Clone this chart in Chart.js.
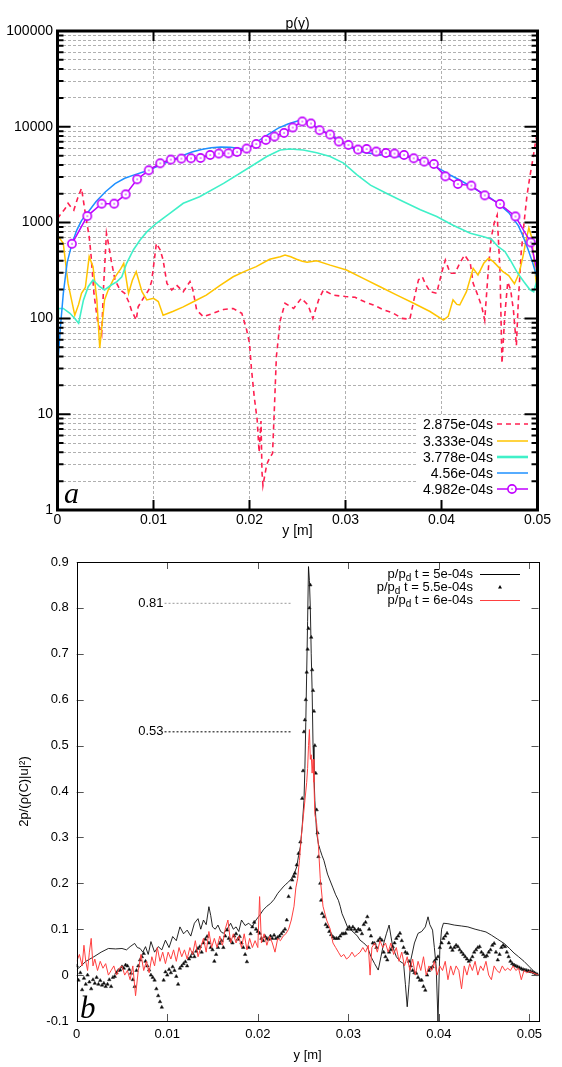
<!DOCTYPE html>
<html>
<head>
<meta charset="utf-8">
<script src="https://cdn.jsdelivr.net/npm/chart.js@4.4.1/dist/chart.umd.min.js"></script>
<style>
  html, body { margin: 0; padding: 0; background: #fff; }
  #wrap { position: relative; width: 562px; height: 1067px; background: #fff; }
  #top { position: absolute; left: 0; top: 0; }
  #bot { position: absolute; left: 0; top: 540px; }
</style>
</head>
<body>
<div id="wrap">
  <canvas id="top" width="562" height="540"></canvas>
  <canvas id="bot" width="562" height="527"></canvas>
</div>
<script>
// ---- chart a : p(y), log scale ----
const xTicksA = [0, 0.01, 0.02, 0.03, 0.04, 0.05];
const decadesA = [1, 10, 100, 1000, 10000, 100000];

// t = 2.875e-04s (red dashed)
const p2875X = [0, 0.0004, 0.0008, 0.0011, 0.0014, 0.0017, 0.0021, 0.0025, 0.0029, 0.0033, 0.0035, 0.0038, 0.0042, 0.0046, 0.0048, 0.0051, 0.0053, 0.0056, 0.006, 0.0065, 0.007, 0.0074, 0.0077, 0.0082, 0.0084, 0.0089, 0.0095, 0.0098, 0.01, 0.0103, 0.0107, 0.011, 0.0114, 0.0119, 0.0124, 0.0131, 0.0138, 0.0141, 0.0145, 0.0152, 0.0162, 0.0173, 0.0183, 0.0192, 0.0197, 0.02, 0.0202, 0.0205, 0.0208, 0.021, 0.0212, 0.0213, 0.0214, 0.0218, 0.0221, 0.0224, 0.0226, 0.0228, 0.0232, 0.0237, 0.0246, 0.0254, 0.0261, 0.0266, 0.0272, 0.0277, 0.0287, 0.03, 0.031, 0.032, 0.0329, 0.0339, 0.035, 0.0359, 0.0367, 0.0372, 0.0376, 0.038, 0.0383, 0.0388, 0.0395, 0.04, 0.0404, 0.0409, 0.0414, 0.0419, 0.0424, 0.043, 0.0433, 0.0437, 0.0442, 0.0445, 0.0449, 0.0452, 0.0455, 0.0458, 0.0461, 0.0463, 0.0466, 0.0469, 0.0472, 0.0475, 0.0478, 0.048, 0.0483, 0.0486, 0.0489, 0.0492, 0.0495, 0.0498, 0.05];
const p2875Y = [1100, 1250, 1400, 1590, 1450, 1350, 1800, 2280, 1250, 713, 450, 180, 90, 68, 214, 773, 608, 400, 250, 200, 183, 150, 122, 96, 132, 160, 198, 242, 347, 608, 518, 407, 232, 198, 223, 190, 242, 198, 122, 104, 113, 124, 127, 113, 76, 55, 30, 15, 8.7, 4, 8.5, 2.5, 1.8, 3, 3.5, 3.9, 12, 40, 95, 144, 127, 162, 138, 100, 156, 198, 175, 169, 166, 149, 138, 124, 113, 100, 98, 169, 252, 272, 232, 190, 183, 296, 407, 296, 296, 376, 459, 376, 232, 183, 132, 96, 347, 713, 1000, 1200, 300, 34, 110, 240, 200, 120, 52, 150, 480, 1000, 1900, 3000, 4500, 7000, 9000];

// t = 3.333e-04s (yellow)
const p3333X = [0, 0.0001, 0.0006, 0.0011, 0.0015, 0.0018, 0.0022, 0.0025, 0.0029, 0.0033, 0.0037, 0.0041, 0.0044, 0.0049, 0.0053, 0.0058, 0.0062, 0.0066, 0.0069, 0.0074, 0.0078, 0.0082, 0.0088, 0.0093, 0.01, 0.0105, 0.011, 0.012, 0.0131, 0.0143, 0.0155, 0.0169, 0.0183, 0.0195, 0.0207, 0.0221, 0.0232, 0.0237, 0.0243, 0.0249, 0.0255, 0.026, 0.027, 0.0284, 0.0301, 0.0319, 0.0336, 0.0353, 0.0371, 0.0388, 0.0402, 0.0407, 0.0412, 0.0416, 0.0419, 0.0426, 0.0433, 0.0438, 0.0444, 0.0449, 0.0454, 0.0459, 0.0464, 0.047, 0.0476, 0.0481, 0.0485, 0.0488, 0.0491, 0.0494, 0.0497, 0.05];
const p3333Y = [600, 713, 608, 232, 150, 108, 140, 183, 210, 441, 347, 156, 49, 156, 200, 252, 290, 330, 376, 183, 250, 307, 190, 156, 162, 150, 108, 118, 132, 152, 175, 220, 272, 310, 347, 414, 441, 459, 440, 414, 395, 385, 400, 360, 320, 260, 214, 176, 144, 118, 96, 105, 156, 140, 138, 190, 333, 284, 376, 424, 391, 347, 307, 280, 230, 300, 450, 650, 880, 700, 350, 170];

// t = 3.778e-04s (turquoise)
const p3778X = [0, 0.0001, 0.0006, 0.0013, 0.0018, 0.0022, 0.0027, 0.0032, 0.0037, 0.0044, 0.0049, 0.0056, 0.0062, 0.0067, 0.0072, 0.0079, 0.0086, 0.0093, 0.0103, 0.0117, 0.0131, 0.0148, 0.0173, 0.0201, 0.0218, 0.0232, 0.0242, 0.0256, 0.027, 0.0284, 0.0298, 0.0312, 0.0326, 0.0343, 0.036, 0.0378, 0.0395, 0.0412, 0.043, 0.0444, 0.0452, 0.0459, 0.0466, 0.0472, 0.0479, 0.0486, 0.0492, 0.0496, 0.0499, 0.05];
const p3778Y = [30, 127, 127, 113, 100, 89, 155, 214, 252, 214, 198, 223, 242, 272, 376, 518, 658, 800, 984, 1250, 1590, 1862, 2570, 3830, 4900, 5730, 5870, 5730, 5360, 4900, 4180, 3150, 2460, 2010, 1660, 1360, 1160, 940, 773, 713, 670, 560, 500, 400, 300, 240, 200, 190, 240, 320];

// t = 4.56e-04s (blue)
const p456X = [0, 0.0003, 0.0006, 0.001, 0.0015, 0.002, 0.0025, 0.0031, 0.004, 0.005, 0.006, 0.007, 0.008, 0.009, 0.01, 0.011, 0.012, 0.013, 0.014, 0.015, 0.016, 0.017, 0.018, 0.019, 0.0197, 0.0207, 0.022, 0.023, 0.024, 0.025, 0.0255, 0.026, 0.027, 0.028, 0.029, 0.03, 0.031, 0.032, 0.033, 0.034, 0.035, 0.036, 0.037, 0.038, 0.039, 0.04, 0.041, 0.042, 0.043, 0.044, 0.045, 0.046, 0.047, 0.048, 0.0485, 0.049, 0.0495, 0.0498, 0.05];
const p456Y = [30, 80, 180, 380, 600, 830, 1050, 1250, 1650, 2100, 2550, 2900, 3150, 3400, 3700, 4100, 4500, 5000, 5450, 5800, 6050, 6150, 6100, 5950, 5750, 6900, 8400, 9700, 10700, 11500, 11700, 11300, 9900, 8600, 7600, 6500, 5800, 5400, 5200, 5050, 4900, 4880, 4800, 4400, 4000, 3550, 3100, 2750, 2400, 2100, 1830, 1560, 1270, 930, 720, 530, 380, 300, 250];

// t = 4.982e-04s (magenta, circles); last value only closes the line
const p4982X = [0.0015, 0.0031, 0.0046, 0.0059, 0.0071, 0.0083, 0.0095, 0.0107, 0.0118, 0.0129, 0.0139, 0.0149, 0.0159, 0.0168, 0.0178, 0.0187, 0.0197, 0.0207, 0.0217, 0.0226, 0.0236, 0.0245, 0.0255, 0.0264, 0.0273, 0.0284, 0.0293, 0.0303, 0.0313, 0.0322, 0.0332, 0.0342, 0.0351, 0.0361, 0.0371, 0.0382, 0.0392, 0.0404, 0.0417, 0.0431, 0.0445, 0.0461, 0.0477, 0.0493, 0.05];
const p4982Y = [601, 1170, 1577, 1577, 1972, 2831, 3516, 4159, 4550, 4660, 4695, 4730, 5080, 5260, 5295, 5470, 5930, 6620, 7300, 7920, 8630, 9840, 11360, 10830, 9210, 8300, 7020, 6470, 5790, 5870, 5520, 5330, 5260, 5080, 4695, 4335, 4090, 3042, 2529, 2432, 1926, 1562, 1161, 621, 300];

const labelsA = ['2.875e-04s', '3.333e-04s', '3.778e-04s', '4.56e-04s', '4.982e-04s'];

// ---- chart b : 2p/(rho|u|^2) ----
const xTicksB = [0, 0.01, 0.02, 0.03, 0.04, 0.05];
const yTicksB = [-0.1, 0, 0.1, 0.2, 0.3, 0.4, 0.5, 0.6, 0.7, 0.8, 0.9];

// t = 5e-04s (black line)
const b5X = [0, 0.0005, 0.001, 0.0019, 0.0027, 0.0035, 0.0043, 0.005, 0.0055, 0.0059, 0.0064, 0.0067, 0.007, 0.0073, 0.0076, 0.0079, 0.0082, 0.0086, 0.009, 0.0094, 0.0098, 0.0102, 0.0106, 0.011, 0.0114, 0.0118, 0.0122, 0.0126, 0.013, 0.0134, 0.0137, 0.014, 0.0143, 0.0146, 0.0148, 0.015, 0.0153, 0.0156, 0.0159, 0.0162, 0.0166, 0.017, 0.0173, 0.0176, 0.0179, 0.0182, 0.0186, 0.019, 0.0194, 0.0198, 0.0202, 0.0206, 0.021, 0.0214, 0.0218, 0.0222, 0.0225, 0.0228, 0.0231, 0.0234, 0.0237, 0.0239, 0.0241, 0.0243, 0.0245, 0.0247, 0.0249, 0.0251, 0.0252, 0.0253, 0.0254, 0.0255, 0.0256, 0.0257, 0.0258, 0.0259, 0.026, 0.0261, 0.0262, 0.0263, 0.0265, 0.0267, 0.0269, 0.0271, 0.0273, 0.0275, 0.0277, 0.028, 0.0283, 0.0286, 0.0289, 0.0291, 0.0293, 0.0296, 0.0299, 0.0303, 0.0307, 0.031, 0.0313, 0.0317, 0.0321, 0.0325, 0.0329, 0.0333, 0.0336, 0.0339, 0.0342, 0.0345, 0.0347, 0.0349, 0.0353, 0.0357, 0.0361, 0.0363, 0.0365, 0.0367, 0.0369, 0.0373, 0.0377, 0.0381, 0.0385, 0.0388, 0.039, 0.0393, 0.0395, 0.0397, 0.0399, 0.0401, 0.0403, 0.0405, 0.041, 0.0417, 0.0425, 0.0432, 0.044, 0.0446, 0.0452, 0.0458, 0.0465, 0.0472, 0.0478, 0.0483, 0.0488, 0.0494, 0.05, 0.0505, 0.051];
const b5Y = [0.012, 0.02, 0.03, 0.04, 0.05, 0.058, 0.057, 0.058, 0.055, 0.062, 0.069, 0.06, 0.058, 0.05, 0.062, 0.045, 0.073, 0.05, 0.062, 0.055, 0.076, 0.06, 0.084, 0.075, 0.105, 0.09, 0.098, 0.085, 0.113, 0.123, 0.1, 0.12, 0.11, 0.149, 0.13, 0.105, 0.1, 0.109, 0.095, 0.091, 0.1, 0.113, 0.1, 0.105, 0.095, 0.12, 0.108, 0.113, 0.105, 0.12, 0.13, 0.142, 0.15, 0.156, 0.165, 0.178, 0.185, 0.192, 0.198, 0.203, 0.21, 0.218, 0.225, 0.236, 0.26, 0.28, 0.323, 0.38, 0.45, 0.55, 0.66, 0.77, 0.89, 0.86, 0.8, 0.7, 0.62, 0.5, 0.44, 0.38, 0.31, 0.285, 0.272, 0.26, 0.25, 0.235, 0.22, 0.205, 0.19, 0.175, 0.163, 0.15, 0.134, 0.12, 0.105, 0.098, 0.091, 0.085, 0.076, 0.07, 0.062, 0.04, 0.025, 0.011, 0.04, 0.069, 0.09, 0.109, 0.085, 0.062, 0.04, 0.03, 0.025, -0.02, -0.069, -0.02, 0.033, 0.07, 0.091, 0.095, 0.105, 0.127, 0.11, 0.098, 0.06, 0.018, -0.1, 0.054, 0.1, 0.113, 0.112, 0.109, 0.107, 0.105, 0.1, 0.097, 0.094, 0.087, 0.078, 0.069, 0.058, 0.048, 0.04, 0.03, 0.018, 0.008, 0.0];

// t = 5.5e-04s (triangles)
const b55X = [0, 0.0002, 0.0004, 0.0006, 0.0008, 0.001, 0.0012, 0.0014, 0.0016, 0.0018, 0.002, 0.0022, 0.0024, 0.0026, 0.0028, 0.003, 0.0032, 0.0034, 0.0036, 0.0038, 0.004, 0.0042, 0.0044, 0.0046, 0.0048, 0.005, 0.0052, 0.0054, 0.0056, 0.0058, 0.006, 0.0062, 0.0064, 0.0066, 0.0068, 0.007, 0.0072, 0.0074, 0.0076, 0.0078, 0.008, 0.0082, 0.0084, 0.0086, 0.0088, 0.009, 0.0092, 0.0094, 0.0096, 0.0098, 0.01, 0.0102, 0.0104, 0.0106, 0.0108, 0.011, 0.0112, 0.0114, 0.0116, 0.0118, 0.012, 0.0122, 0.0124, 0.0126, 0.0128, 0.013, 0.0132, 0.0134, 0.0136, 0.0138, 0.014, 0.0142, 0.0144, 0.0146, 0.0148, 0.015, 0.0152, 0.0154, 0.0156, 0.0158, 0.016, 0.0162, 0.0164, 0.0166, 0.0168, 0.017, 0.0172, 0.0174, 0.0176, 0.0178, 0.018, 0.0182, 0.0184, 0.0186, 0.0188, 0.019, 0.0192, 0.0194, 0.0196, 0.0198, 0.02, 0.0202, 0.0204, 0.0206, 0.0208, 0.021, 0.0212, 0.0214, 0.0216, 0.0218, 0.022, 0.0222, 0.0224, 0.0226, 0.0228, 0.023, 0.0232, 0.0234, 0.0236, 0.0238, 0.024, 0.0241, 0.0243, 0.0245, 0.0247, 0.0249, 0.025, 0.0251, 0.0252, 0.0253, 0.0254, 0.0255, 0.0256, 0.0257, 0.0258, 0.0259, 0.026, 0.0261, 0.0262, 0.0263, 0.0264, 0.0265, 0.0266, 0.0267, 0.0269, 0.027, 0.0271, 0.0273, 0.0275, 0.0277, 0.0279, 0.0281, 0.0283, 0.0285, 0.0287, 0.0289, 0.0291, 0.0293, 0.0295, 0.0297, 0.0299, 0.0301, 0.0303, 0.0305, 0.0307, 0.0309, 0.0311, 0.0313, 0.0315, 0.0317, 0.0319, 0.0321, 0.0323, 0.0325, 0.0327, 0.0329, 0.0331, 0.0333, 0.0335, 0.0337, 0.0339, 0.0341, 0.0343, 0.0345, 0.0347, 0.0349, 0.0351, 0.0353, 0.0355, 0.0357, 0.0359, 0.0361, 0.0363, 0.0365, 0.0367, 0.0369, 0.0371, 0.0373, 0.0375, 0.0377, 0.0379, 0.0381, 0.0383, 0.0385, 0.0387, 0.0389, 0.0391, 0.0393, 0.0395, 0.0397, 0.0399, 0.0401, 0.0403, 0.0405, 0.0407, 0.0409, 0.0411, 0.0413, 0.0415, 0.0417, 0.0419, 0.0421, 0.0423, 0.0425, 0.0427, 0.0429, 0.0431, 0.0433, 0.0435, 0.0437, 0.0439, 0.0441, 0.0443, 0.0445, 0.0447, 0.0449, 0.0451, 0.0453, 0.0455, 0.0457, 0.0459, 0.0461, 0.0463, 0.0465, 0.0467, 0.0469, 0.0471, 0.0473, 0.0475, 0.0477, 0.0479, 0.0481, 0.0483, 0.0485, 0.0487, 0.0489, 0.0491, 0.0493, 0.0495, 0.0497, 0.0499, 0.0501, 0.0503, 0.0505, 0.0507, 0.0509];
const b55Y = [0.02, -0.011, 0.005, -0.032, -0.007, -0.02, 0.0, -0.015, -0.03, -0.01, -0.018, -0.005, -0.02, -0.012, -0.022, -0.018, -0.025, -0.02, -0.01, -0.025, -0.005, -0.003, 0.005, 0.01, 0.011, 0.018, 0.015, 0.022, 0.02, 0.012, 0.004, -0.01, -0.025, 0.01, 0.02, 0.033, 0.04, 0.047, 0.03, 0.02, 0.011, 0.0, -0.005, -0.011, -0.03, -0.045, -0.058, -0.07, -0.011, 0.007, 0.0, 0.012, 0.005, 0.018, 0.01, -0.003, -0.02, 0.015, 0.02, 0.025, 0.029, 0.02, 0.035, 0.04, 0.047, 0.04, 0.052, 0.058, 0.062, 0.05, 0.07, 0.078, 0.084, 0.07, 0.06, 0.055, 0.03, 0.045, 0.06, 0.069, 0.075, 0.06, 0.085, 0.098, 0.08, 0.076, 0.07, 0.085, 0.09, 0.078, 0.084, 0.07, 0.06, 0.045, 0.029, 0.06, 0.09, 0.105, 0.115, 0.1, 0.095, 0.091, 0.08, 0.075, 0.084, 0.08, 0.078, 0.085, 0.08, 0.087, 0.08, 0.082, 0.085, 0.09, 0.095, 0.1, 0.12, 0.171, 0.19, 0.207, 0.215, 0.222, 0.24, 0.265, 0.29, 0.385, 0.445, 0.53, 0.556, 0.6, 0.66, 0.71, 0.755, 0.8, 0.85, 0.736, 0.665, 0.62, 0.575, 0.5, 0.44, 0.36, 0.31, 0.258, 0.2, 0.163, 0.134, 0.127, 0.11, 0.105, 0.095, 0.088, 0.083, 0.08, 0.08, 0.08, 0.085, 0.09, 0.09, 0.091, 0.1, 0.105, 0.1, 0.105, 0.1, 0.095, 0.1, 0.098, 0.09, 0.11, 0.115, 0.127, 0.1, 0.085, 0.07, 0.069, 0.06, 0.075, 0.08, 0.076, 0.05, 0.04, 0.033, 0.05, 0.055, 0.062, 0.07, 0.08, 0.085, 0.091, 0.075, 0.06, 0.05, 0.047, 0.03, 0.02, 0.01, 0.005, 0.004, -0.005, -0.011, -0.011, -0.025, -0.033, 0.0, 0.01, 0.015, 0.018, 0.03, 0.035, 0.04, 0.06, 0.07, 0.08, 0.085, 0.091, 0.07, 0.06, 0.054, 0.06, 0.065, 0.062, 0.055, 0.05, 0.045, 0.04, 0.035, 0.03, 0.033, 0.04, 0.05, 0.055, 0.06, 0.062, 0.05, 0.045, 0.04, 0.042, 0.05, 0.055, 0.065, 0.069, 0.05, 0.033, 0.045, 0.06, 0.065, 0.062, 0.05, 0.04, 0.03, 0.025, 0.022, 0.02, 0.018, 0.016, 0.014, 0.012, 0.011, 0.01, 0.009, 0.008, 0.007, 0.005, 0.003, 0.001];

// t = 6e-04s (red line)
const b6X = [0, 0.0003, 0.0006, 0.0008, 0.001, 0.0012, 0.0014, 0.0016, 0.0018, 0.002, 0.0023, 0.0026, 0.0029, 0.0032, 0.0035, 0.0038, 0.0041, 0.0044, 0.0047, 0.005, 0.0053, 0.0056, 0.0059, 0.0062, 0.0065, 0.0068, 0.0071, 0.0074, 0.0077, 0.008, 0.0083, 0.0086, 0.0089, 0.0092, 0.0095, 0.0098, 0.0101, 0.0104, 0.0107, 0.011, 0.0113, 0.0116, 0.0119, 0.0122, 0.0125, 0.0128, 0.0131, 0.0134, 0.0137, 0.014, 0.0143, 0.0146, 0.0149, 0.0152, 0.0155, 0.0158, 0.0161, 0.0164, 0.0167, 0.017, 0.0173, 0.0176, 0.0179, 0.0182, 0.0185, 0.0188, 0.0191, 0.0194, 0.0197, 0.02, 0.0202, 0.0204, 0.0207, 0.021, 0.0213, 0.0216, 0.0219, 0.0222, 0.0225, 0.0228, 0.0231, 0.0234, 0.0237, 0.024, 0.0242, 0.0244, 0.0246, 0.0248, 0.025, 0.0252, 0.0254, 0.0255, 0.0256, 0.0257, 0.0258, 0.0259, 0.026, 0.0261, 0.0262, 0.0263, 0.0265, 0.0267, 0.0269, 0.0272, 0.0276, 0.028, 0.0283, 0.0286, 0.0289, 0.0292, 0.0295, 0.0298, 0.0301, 0.0304, 0.0307, 0.031, 0.0313, 0.0316, 0.0319, 0.0322, 0.0324, 0.0326, 0.0329, 0.0332, 0.0335, 0.0338, 0.0341, 0.0344, 0.0347, 0.035, 0.0353, 0.0356, 0.0359, 0.0362, 0.0365, 0.0368, 0.0371, 0.0374, 0.0377, 0.038, 0.0383, 0.0386, 0.0389, 0.0392, 0.0395, 0.0398, 0.0401, 0.0404, 0.0407, 0.041, 0.0413, 0.0416, 0.0419, 0.0422, 0.0425, 0.0428, 0.0431, 0.0434, 0.0437, 0.044, 0.0443, 0.0446, 0.0449, 0.0452, 0.0455, 0.0458, 0.0461, 0.0464, 0.0467, 0.047, 0.0473, 0.0476, 0.0479, 0.0482, 0.0485, 0.0488, 0.0491, 0.0494, 0.0497, 0.05, 0.0505, 0.051];
const b6Y = [0.03, 0.045, 0.02, 0.065, 0.03, 0.01, 0.05, 0.08, 0.02, 0.035, 0.01, 0.03, 0.015, 0.025, 0.0, 0.01, 0.02, 0.0, 0.015, 0.02, 0.0, 0.01, -0.01, 0.02, -0.045, 0.01, 0.045, 0.01, 0.03, 0.005, 0.04, 0.02, 0.06, 0.03, 0.05, 0.025, 0.05, 0.035, 0.055, 0.03, 0.06, 0.04, 0.055, 0.035, 0.06, 0.045, 0.075, 0.04, 0.06, 0.08, 0.05, 0.095, 0.06, 0.08, 0.06, 0.085, 0.065, 0.1, 0.12, 0.07, 0.09, 0.07, 0.085, 0.06, 0.09, 0.055, 0.08, 0.06, 0.075, 0.06, 0.171, 0.07, 0.09, 0.065, 0.085, 0.07, 0.05, 0.08, 0.075, 0.085, 0.09, 0.1, 0.12, 0.15, 0.19, 0.21, 0.25, 0.3, 0.34, 0.38, 0.42, 0.45, 0.5, 0.535, 0.47, 0.48, 0.44, 0.47, 0.42, 0.35, 0.33, 0.28, 0.21, 0.15, 0.12, 0.1, 0.07, 0.06, 0.05, 0.04, 0.045, 0.035, 0.04, 0.05, 0.04, 0.045, 0.05, 0.06, 0.05, 0.065, 0.0, 0.06, 0.07, 0.05, 0.075, 0.06, 0.07, 0.05, 0.07, 0.045, 0.06, 0.03, 0.05, 0.02, 0.04, 0.01, 0.035, 0.0, 0.03, 0.01, 0.04, 0.0, 0.02, 0.01, 0.03, 0.0, 0.02, 0.01, 0.03, -0.01, 0.02, 0.0, 0.02, 0.01, -0.03, 0.02, 0.0, 0.025, 0.01, 0.03, 0.0, 0.02, 0.01, 0.03, 0.0, -0.01, 0.02, 0.01, 0.005, 0.02, 0.01, 0.015, 0.01, 0.02, 0.01, 0.015, -0.01, 0.01, 0.005, 0.008, 0.004, 0.0];

// reference levels 0.81 and 0.53
const refX = [0.0097, 0.0237];
const ref81 = [0.81, 0.81];
const ref53 = [0.53, 0.53];

const labelsB = ['5e-04s', '5.5e-04s', '6e-04s'];

const FONT = "'Liberation Sans', Arial, sans-serif";
const pts = (xs, ys) => xs.map((x, i) => ({ x, y: ys[i] }));

// circle with a centre dot, like the gnuplot point type
function ringDot(color) {
  const c = document.createElement('canvas');
  c.width = 12; c.height = 12;
  const g = c.getContext('2d');
  g.beginPath();
  g.arc(6, 6, 4.1, 0, Math.PI * 2);
  g.fillStyle = '#fff';
  g.fill();
  g.lineWidth = 1.6;
  g.strokeStyle = color;
  g.stroke();
  g.fillStyle = color;
  g.fillRect(5.4, 5.4, 1.3, 1.3);
  return c;
}
const ring = ringDot('#c000ff');

const whiteBg = {
  id: 'whiteBg',
  beforeDraw(chart) {
    const ctx = chart.ctx;
    ctx.save();
    ctx.fillStyle = '#fff';
    ctx.fillRect(0, 0, chart.width, chart.height);
    ctx.restore();
  }
};

// legend, frame and tick marks of chart a
const frameA = {
  id: 'frameA',
  afterDatasetsDraw(chart) {
    const { ctx, chartArea: a, scales: { x, y } } = chart;
    ctx.save();
    // key box
    ctx.fillStyle = '#fff';
    ctx.fillRect(417, 416, 117, 84);
    const rows = [424, 441, 457, 473, 489];
    ctx.font = '14px ' + FONT;
    ctx.fillStyle = '#000';
    ctx.textAlign = 'right';
    ctx.textBaseline = 'middle';
    const cols = ['#ff2050', '#ffc400', '#40f0c8', '#1e90ff', '#c000ff'];
    const widths = [1.6, 1.5, 2.6, 1.5, 1.5];
    labelsA.forEach((t, i) => {
      ctx.fillText(t, 493, rows[i] + 1);
      ctx.beginPath();
      ctx.setLineDash(i === 0 ? [5, 4] : []);
      ctx.strokeStyle = cols[i];
      ctx.lineWidth = widths[i];
      ctx.moveTo(497, rows[i]);
      ctx.lineTo(528, rows[i]);
      ctx.stroke();
    });
    ctx.setLineDash([]);
    ctx.drawImage(ring, 512 - 6, rows[4] - 6);

    // y ticks, inward on both sides
    ctx.strokeStyle = '#000';
    ctx.lineWidth = 2;
    y.ticks.forEach(t => {
      const py = y.getPixelForValue(t.value);
      const len = decadesA.includes(t.value) ? 13 : 6;
      ctx.beginPath();
      ctx.moveTo(a.left, py); ctx.lineTo(a.left + len, py);
      ctx.moveTo(a.right, py); ctx.lineTo(a.right - len, py);
      ctx.stroke();
    });
    xTicksA.forEach(v => {
      const px = x.getPixelForValue(v);
      ctx.beginPath();
      ctx.moveTo(px, a.top); ctx.lineTo(px, a.top + 10);
      ctx.moveTo(px, a.bottom); ctx.lineTo(px, a.bottom - 10);
      ctx.stroke();
    });
    // thick border
    ctx.lineWidth = 3;
    ctx.strokeRect(a.left, a.top, a.right - a.left, a.bottom - a.top);

    // title and panel letter
    ctx.textAlign = 'center';
    ctx.textBaseline = 'alphabetic';
    ctx.font = '14px ' + FONT;
    ctx.fillText('p(y)', (a.left + a.right) / 2, 28);
    ctx.textAlign = 'left';
    ctx.font = "italic 30px 'Liberation Serif', 'DejaVu Serif', serif";
    ctx.fillText('a', 64, 503);
    ctx.restore();
  }
};

// legend with subscript, frame, ticks and notes of chart b
function pdLabel(ctx, right, y, rest) {
  ctx.font = '13px ' + FONT;
  const w1 = ctx.measureText('p/p').width;
  const w3 = ctx.measureText(' t = ' + rest).width;
  ctx.font = '10px ' + FONT;
  const w2 = ctx.measureText('d').width;
  const x0 = right - w1 - w2 - w3;
  ctx.textAlign = 'left';
  ctx.font = '13px ' + FONT;
  ctx.fillText('p/p', x0, y);
  ctx.font = '10px ' + FONT;
  ctx.fillText('d', x0 + w1, y + 4);
  ctx.font = '13px ' + FONT;
  ctx.fillText(' t = ' + rest, x0 + w1 + w2, y);
}

const frameB = {
  id: 'frameB',
  afterDatasetsDraw(chart) {
    const { ctx, chartArea: a, scales: { x, y } } = chart;
    ctx.save();
    ctx.strokeStyle = '#555';
    ctx.lineWidth = 1;
    yTicksB.forEach(v => {
      const py = Math.round(y.getPixelForValue(v)) + 0.5;
      ctx.beginPath();
      ctx.moveTo(a.left, py); ctx.lineTo(a.left + 7, py);
      ctx.moveTo(a.right, py); ctx.lineTo(a.right - 7, py);
      ctx.stroke();
    });
    xTicksB.forEach(v => {
      const px = Math.round(x.getPixelForValue(v)) + 0.5;
      ctx.beginPath();
      ctx.moveTo(px, a.top); ctx.lineTo(px, a.top + 7);
      ctx.moveTo(px, a.bottom); ctx.lineTo(px, a.bottom - 7);
      ctx.stroke();
    });
    ctx.strokeStyle = '#000';
    ctx.strokeRect(Math.round(a.left) + 0.5, Math.round(a.top) + 0.5, Math.round(a.right - a.left), Math.round(a.bottom - a.top));

    // reference labels
    ctx.fillStyle = '#000';
    ctx.textBaseline = 'middle';
    ctx.textAlign = 'right';
    ctx.font = '13px ' + FONT;
    ctx.fillText('0.81', x.getPixelForValue(refX[0]) - 1, y.getPixelForValue(ref81[0]));
    ctx.fillText('0.53', x.getPixelForValue(refX[0]) - 1, y.getPixelForValue(ref53[0]));

    // key
    const rows = [34, 47, 60];
    labelsB.forEach((t, i) => pdLabel(ctx, 473, rows[i], t));
    ctx.lineWidth = 1;
    ctx.strokeStyle = '#000';
    ctx.beginPath(); ctx.moveTo(480, rows[0] + 0.5); ctx.lineTo(520, rows[0] + 0.5); ctx.stroke();
    ctx.strokeStyle = '#ff4040';
    ctx.beginPath(); ctx.moveTo(480, rows[2] + 0.5); ctx.lineTo(520, rows[2] + 0.5); ctx.stroke();
    ctx.fillStyle = '#000';
    ctx.beginPath();
    ctx.moveTo(500, rows[1] - 2); ctx.lineTo(502, rows[1] + 1.5); ctx.lineTo(498, rows[1] + 1.5);
    ctx.closePath(); ctx.fill();

    ctx.textAlign = 'left';
    ctx.textBaseline = 'alphabetic';
    ctx.font = "italic 31px 'Liberation Serif', 'DejaVu Serif', serif";
    ctx.fillText('b', 80, 478);
    ctx.restore();
  }
};

new Chart(document.getElementById('top'), {
  type: 'scatter',
  data: {
    datasets: [
      { label: labelsA[0], data: pts(p2875X, p2875Y), showLine: true, borderColor: '#ff2050', borderWidth: 1.6, borderDash: [5, 4], pointRadius: 0, order: 5 },
      { label: labelsA[1], data: pts(p3333X, p3333Y), showLine: true, borderColor: '#ffc400', borderWidth: 1.5, pointRadius: 0, order: 4 },
      { label: labelsA[2], data: pts(p3778X, p3778Y), showLine: true, borderColor: '#40f0c8', borderWidth: 1.6, pointRadius: 0, order: 3 },
      { label: labelsA[3], data: pts(p456X, p456Y), showLine: true, borderColor: '#1e90ff', borderWidth: 1.5, pointRadius: 0, order: 2 },
      { label: labelsA[4], data: pts(p4982X, p4982Y), showLine: true, borderColor: '#c000ff', borderWidth: 1.5,
        pointStyle: ring, pointRadius: ctx => ctx.dataIndex === p4982X.length - 1 ? 0 : 5, order: 1 }
    ]
  },
  options: {
    responsive: false,
    animation: false,
    layout: { padding: { left: 0, right: 24.5, top: 31, bottom: 0 } },
    plugins: { legend: { display: false }, tooltip: { enabled: false } },
    scales: {
      x: {
        type: 'linear', min: 0, max: 0.05,
        afterFit: s => { s.height = 30; },
        afterBuildTicks: s => { s.ticks = xTicksA.map(v => ({ value: v })); },
        ticks: { color: '#000', font: { size: 14, family: FONT }, padding: 2, maxRotation: 0,
          callback: v => v === 0 ? '0' : v.toFixed(2) },
        grid: { color: '#b0b0b0', lineWidth: 1, drawTicks: false },
        border: { display: false, dash: [3, 2] },
        title: { display: true, text: 'y [m]', color: '#000', font: { size: 14, family: FONT }, padding: { top: 0, bottom: 0 } }
      },
      y: {
        type: 'logarithmic', min: 1, max: 100000,
        afterFit: s => { s.width = 57.5; },
        afterBuildTicks: s => {
          const t = [];
          decadesA.slice(0, 5).forEach(d => { for (let m = 1; m < 10; m++) t.push({ value: d * m }); });
          t.push({ value: 100000 });
          s.ticks = t;
        },
        ticks: { color: '#000', font: { size: 14, family: FONT }, padding: 4.5, autoSkip: false,
          callback: v => decadesA.includes(v) ? String(v) : '' },
        grid: { color: '#b0b0b0', lineWidth: 1, drawTicks: false },
        border: { display: false, dash: [3, 2] }
      }
    }
  },
  plugins: [whiteBg, frameA]
});

new Chart(document.getElementById('bot'), {
  type: 'scatter',
  data: {
    datasets: [
      { label: labelsB[0], data: pts(b5X, b5Y), showLine: true, borderColor: 'rgba(0,0,0,0.85)', borderWidth: 1, pointRadius: 0, order: 3 },
      { label: labelsB[1], data: pts(b55X, b55Y), showLine: false, pointStyle: 'triangle', pointRadius: 2,
        backgroundColor: '#000', borderColor: '#333', borderWidth: 0.6, order: 2 },
      { label: labelsB[2], data: pts(b6X, b6Y), showLine: true, borderColor: '#ff4040', borderWidth: 1, pointRadius: 0, order: 1 },
      { label: 'ref81', data: pts(refX, ref81), showLine: true, borderColor: '#999', borderWidth: 1, borderDash: [2, 2], pointRadius: 0, order: 0 },
      { label: 'ref53', data: pts(refX, ref53), showLine: true, borderColor: '#000', borderWidth: 1, borderDash: [2, 2], pointRadius: 0, order: 0 }
    ]
  },
  options: {
    responsive: false,
    animation: false,
    layout: { padding: { left: 0, right: 23.5, top: 22, bottom: 0 } },
    plugins: { legend: { display: false }, tooltip: { enabled: false } },
    scales: {
      x: {
        type: 'linear', min: 0, max: 0.051,
        afterFit: s => { s.height = 46; },
        afterBuildTicks: s => { s.ticks = xTicksB.map(v => ({ value: v })); },
        ticks: { color: '#000', font: { size: 13, family: FONT }, padding: 6, maxRotation: 0,
          callback: v => v === 0 ? '0' : v.toFixed(2) },
        grid: { display: false, drawTicks: false },
        border: { display: false },
        title: { display: true, text: 'y [m]', color: '#000', font: { size: 13, family: FONT }, padding: { top: 0, bottom: 4 } }
      },
      y: {
        type: 'linear', min: -0.1, max: 0.9,
        afterFit: s => { s.width = 76.7; },
        afterBuildTicks: s => { s.ticks = yTicksB.map(v => ({ value: v })); },
        ticks: { color: '#000', font: { size: 13, family: FONT }, padding: 8,
          callback: v => Math.abs(v) < 1e-9 ? '0' : v.toFixed(1) },
        grid: { display: false, drawTicks: false },
        border: { display: false },
        title: { display: true, text: '2p/(ρ(C)|u|²)', color: '#000', font: { size: 13, family: FONT }, padding: { top: 17, bottom: 0 } }
      }
    }
  },
  plugins: [whiteBg, frameB]
});
</script>
</body>
</html>
